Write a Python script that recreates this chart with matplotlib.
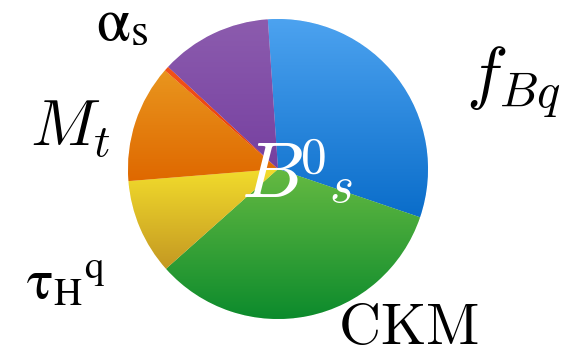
import numpy as np
import matplotlib
matplotlib.use('Agg')
import matplotlib.pyplot as plt
from matplotlib.colors import to_rgb

# Error budget of the B_s^0 prediction, clockwise from the top
sources = ['fBq', 'CKM', 'tauHq', 'Mt', 'other', 'alphas']
shares = [31.3, 33.2, 10.3, 12.7, 0.5, 12.0]
# (top, bottom) colour of the vertical shading in each slice
shades = [('#4da3f0', '#0a6dca'),
          ('#66ba42', '#0b8a2c'),
          ('#f2dc2c', '#c49822'),
          ('#e9961e', '#df6800'),
          ('#f2521a', '#e83a08'),
          ('#8c5cae', '#7640a0')]

W, H = 572, 347
fig = plt.figure(figsize=(W / 100, H / 100), dpi=100)
ax = fig.add_axes([0, 0, 1, 1])

cx, cy, r = 278, H - 169, 150
wedges, _ = ax.pie(shares, startangle=93.9, counterclock=False,
                   center=(cx, cy), radius=r,
                   wedgeprops=dict(edgecolor='white', linewidth=0.5))

for w, (top, bot) in zip(wedges, shades):
    ys = w.get_path().vertices[:, 1]
    y0, y1 = ys.min(), ys.max()
    t = np.linspace(0, 1, 256)[:, None, None]
    grad = (1 - t) * np.array(to_rgb(top)) + t * np.array(to_rgb(bot))
    w.set_facecolor(np.mean([to_rgb(top), to_rgb(bot)], axis=0))
    im = ax.imshow(grad, extent=(cx - r, cx + r, y0, y1), origin='upper',
                   aspect='auto', interpolation='bilinear', zorder=1.5)
    im.set_clip_path(w)

ax.set_xlim(0, W)
ax.set_ylim(0, H)
ax.axis('off')

cm = dict(math_fontfamily='cm', va='baseline')
st = dict(math_fontfamily='stix', va='baseline')

# centre label, pieces placed one by one so the indices sit close to the B
ax.text(241, H - 197, r'$B$', fontsize=57, color='white', **cm)
ax.text(300, H - 173, r'$0$', fontsize=37, color='white', **cm)
ax.text(329, H - 202, r'$s$', fontsize=37, color='white', **cm)

ax.text(30, H - 146, r'$M_t$', fontsize=47, **cm)
ax.text(466, H - 97, r'$f_{Bq}$', fontsize=50, **cm)
ax.text(338, H - 344, r'$\mathrm{CKM}$', fontsize=42, **cm)

ax.text(96, H - 40, r'$\mathrm{\alpha}$', fontsize=44, **st)
ax.text(130, H - 45, r'$\mathrm{s}$', fontsize=33, **st)
ax.text(26, H - 298, r'${\mathrm{\tau}_\mathrm{H}}^\mathrm{q}$', fontsize=40, **st)

fig.savefig('out.png', dpi=100)
